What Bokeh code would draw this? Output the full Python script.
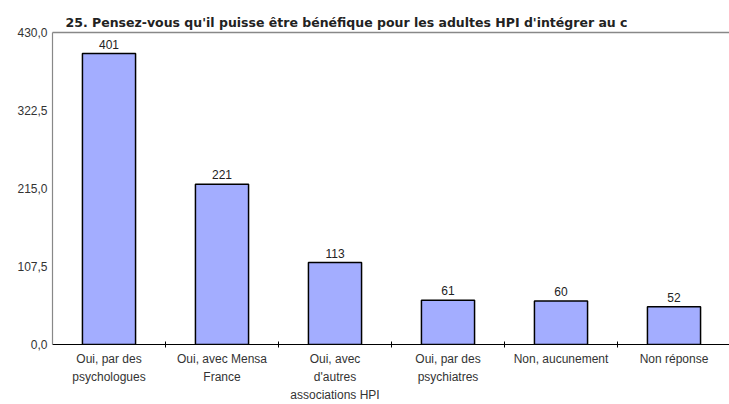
from bokeh.plotting import figure
from bokeh.models import Range1d, FixedTicker, LinearAxis, ColumnDataSource, LabelSet
from bokeh.core.properties import value
from bokeh.embed import file_html
from bokeh.resources import INLINE

categories = ["Oui, par des\npsychologues", "Oui, avec Mensa\nFrance",
              "Oui, avec\nd'autres\nassociations HPI", "Oui, par des\npsychiatres",
              "Non, aucunement", "Non réponse"]
values = [401, 221, 113, 61, 60, 52]
y_ticks = [0, 107.5, 215, 322.5, 430]
y_tick_labels = ["0,0", "107,5", "215,0", "322,5", "430,0"]
title = "25. Pensez-vous qu'il puisse être bénéfique pour les adultes HPI d'intégrer au c"

xs = [i + 0.5 for i in range(len(values))]
src = ColumnDataSource(dict(x=xs, top=values, lab=[str(v) for v in values]))

W, H = 729, 404
p = figure(width=W, height=H, output_backend="svg", toolbar_location=None,
           x_range=Range1d(0, (W - 52) / 113), y_range=Range1d(0, 430),
           min_border_left=52, min_border_top=32, min_border_bottom=59, min_border_right=0)
p.outline_line_color = None
p.grid.visible = False
p.background_fill_color = "white"
p.border_fill_color = "white"

p.title.text = title
p.title.text_font = "DejaVu Sans"
p.title.text_font_size = "12.5px"
p.title.text_font_style = "bold"
p.title.text_color = "#222222"
p.title.offset = 13
p.title.standoff = 6

p.vbar(x="x", top="top", width=0.47, source=src, fill_color="#A3ADFF",
       line_color="black", line_width=1.5)

labels = LabelSet(x="x", y="top", text="lab", source=src, text_align="center",
                  text_baseline="bottom", y_offset=5, text_font=value("Liberation Sans"),
                  text_font_size=value("12px"), text_color=value("#222222"))
p.add_layout(labels)

# x axis
xa = p.xaxis[0]
xa.ticker = FixedTicker(ticks=xs, minor_ticks=[1, 2, 3, 4, 5, 6])
xa.major_label_overrides = {x: c for x, c in zip(xs, categories)}
xa.major_tick_line_color = None
xa.major_tick_out = 0
xa.major_tick_in = 0
xa.minor_tick_in = 3
xa.minor_tick_out = 3
xa.minor_tick_line_color = "black"
xa.axis_line_color = "black"
xa.axis_line_width = 1.2
xa.major_label_text_font = "Liberation Sans"
xa.major_label_text_font_size = "12px"
xa.major_label_text_color = "#333333"
xa.major_label_standoff = 4
xa.major_label_text_line_height = 1.3

# y axis
ya = p.yaxis[0]
ya.ticker = FixedTicker(ticks=y_ticks)
ya.major_label_overrides = {t: l for t, l in zip(y_ticks, y_tick_labels)}
ya.major_tick_line_color = None
ya.major_tick_out = 0
ya.major_tick_in = 0
ya.minor_tick_line_color = None
ya.axis_line_color = "#888888"
ya.axis_line_width = 1.2
ya.major_label_text_font = "Liberation Sans"
ya.major_label_text_font_size = "12px"
ya.major_label_text_color = "#333333"
ya.major_label_standoff = 5

# top border line
top = LinearAxis(ticker=FixedTicker(ticks=[]), axis_line_color="#888888",
                 axis_line_width=1.5, major_tick_line_color=None,
                 minor_tick_line_color=None, major_label_text_font_size="0px")
p.add_layout(top, "above")

open("out.html", "w").write(file_html(p, INLINE))
